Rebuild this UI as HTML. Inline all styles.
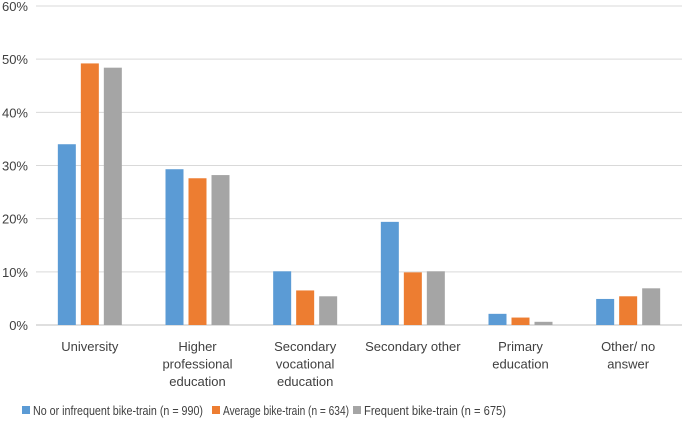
<!DOCTYPE html>
<html><head><meta charset="utf-8"><style>
body{margin:0;background:#fff;}
svg{display:block;font-family:"Liberation Sans",sans-serif;}
</style></head><body>
<svg id="c" width="685" height="421"></svg>
<script>
const categories=[["University"],["Higher","professional","education"],["Secondary","vocational","education"],["Secondary other"],["Primary","education"],["Other/ no","answer"]];
const seriesNames=["No or infrequent bike-train (n = 990)","Average bike-train (n = 634)","Frequent bike-train (n = 675)"];
const noInfrequent=[34.0,29.3,10.1,19.4,2.1,4.9];
const average=[49.2,27.6,6.5,9.9,1.4,5.4];
const frequent=[48.4,28.2,5.4,10.1,0.6,6.9];
const yTicks=[0,10,20,30,40,50,60];
const colors=["#5B9BD5","#ED7D31","#A5A5A5"];
const series=[noInfrequent,average,frequent];
const svg=document.getElementById('c');
const NS="http://www.w3.org/2000/svg";
const x0=36,x1=682,yTop=6,yBot=325,yMax=60;
const y=v=>yBot-(v/yMax)*(yBot-yTop);
const bw=(x1-x0)/categories.length;
const xc=i=>x0+bw*(i+0.5);
function mk(t,a,txt){const e=document.createElementNS(NS,t);for(const k in a)e.setAttribute(k,a[k]);if(txt!=null)e.textContent=txt;svg.appendChild(e);return e;}
yTicks.forEach(t=>{
 const l=mk('line',{x1:x0,x2:x1,y1:y(t),y2:y(t),stroke:t===0?'#bfbfbf':'#d9d9d9','stroke-width':1});
 
 
 const tx=mk('text',{x:28,y:y(t)+5,'text-anchor':'end','font-size':13,fill:'#404040'},t+'%');
 
 
});
const barW=18,gap=5;
series.forEach((s,si)=>{
 s.forEach((v,i)=>{
  const bx=xc(i)+(si-1)*(barW+gap)-barW/2;
  const r=mk('rect',{x:bx,y:y(v),width:barW,height:yBot-y(v),fill:colors[si]});
  
  
 });
});
categories.forEach((lines,i)=>{
 lines.forEach((ln,j)=>{
  const t=mk('text',{x:xc(i),y:351+j*17.5,'text-anchor':'middle','font-size':13,fill:'#404040'},ln);
  
  
 });
});
const lx=[22,212,353], lw=[170,126,142];
seriesNames.forEach((n,si)=>{
 const r=mk('rect',{x:lx[si],y:406,width:8,height:8,fill:colors[si]});
 
 
 const t=mk('text',{x:lx[si]+11,y:415,'font-size':13,fill:'#404040',textLength:lw[si],lengthAdjust:'spacingAndGlyphs'},n);
 
 
});
</script>
</body></html>
